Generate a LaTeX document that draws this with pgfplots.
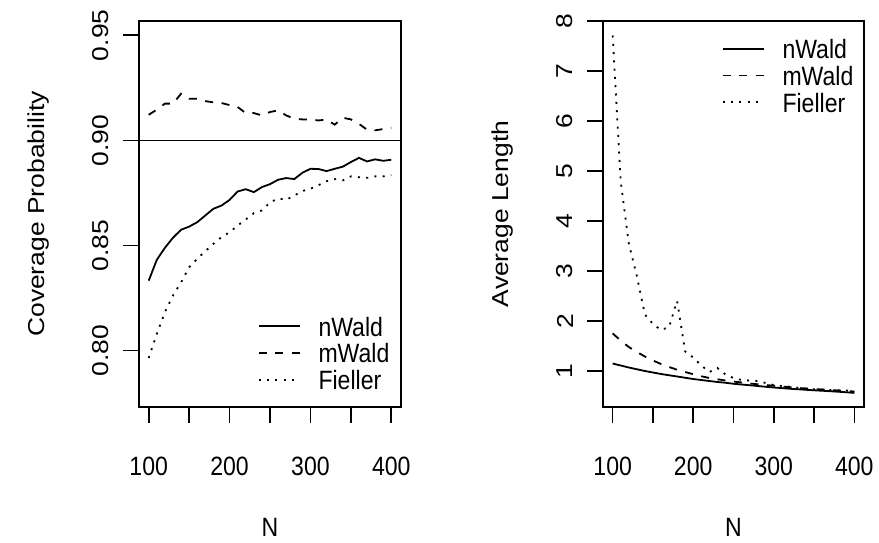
\documentclass[border=0pt]{standalone}
\usepackage{fontspec}
\setmainfont{Liberation Sans}
% the reference is stretched vertically, so text is set a little narrow/tall
\newfontfamily\hfont[FakeStretch=0.87]{Liberation Sans}
\newfontfamily\vfont[FakeStretch=1.15]{Liberation Sans}
\usepackage{pgfplots}
\usepackage{pgfplotstable}
\pgfplotsset{compat=1.18}

\newcommand{\hsz}{\hfont\fontsize{26.5}{30}\selectfont}
\newcommand{\vsz}{\vfont\fontsize{23}{27}\selectfont}

% coverage probability
\pgfplotstableread{
N   nW     mW     Fi
100 0.8333 0.9122 0.7965
110 0.8432 0.9146 0.8079
120 0.8489 0.9175 0.8183
130 0.8537 0.9175 0.8262
140 0.8575 0.9222 0.8325
150 0.8590 0.9198 0.8397
160 0.8611 0.9198 0.8437
170 0.8643 0.9187 0.8473
180 0.8675 0.9181 0.8508
190 0.8690 0.9178 0.8540
200 0.8717 0.9168 0.8563
210 0.8757 0.9159 0.8595
220 0.8768 0.9130 0.8624
230 0.8754 0.9130 0.8654
240 0.8778 0.9119 0.8667
250 0.8792 0.9135 0.8705
260 0.8813 0.9143 0.8724
270 0.8821 0.9119 0.8717
280 0.8816 0.9103 0.8738
290 0.8846 0.9100 0.8759
300 0.8865 0.9099 0.8770
310 0.8864 0.9095 0.8787
320 0.8854 0.9099 0.8806
330 0.8865 0.9075 0.8816
340 0.8875 0.9108 0.8810
350 0.8897 0.9100 0.8829
360 0.8917 0.9079 0.8825
370 0.8900 0.9051 0.8822
380 0.8910 0.9048 0.8829
390 0.8903 0.9054 0.8829
400 0.8908 0.9060 0.8835
}\covtab

% average length
\pgfplotstableread{
N   nW    mW    Fi
100 1.15  1.75  7.71
110 1.11  1.61  4.79
120 1.07  1.48  3.55
130 1.035 1.38  2.90
140 1.00  1.29  2.13
150 0.97  1.21  1.94
160 0.94  1.14  1.82
170 0.915 1.08  1.88
180 0.89  1.025 2.40
190 0.865 0.98  1.39
200 0.84  0.935 1.27
210 0.82  0.895 1.11
220 0.80  0.86  0.98
230 0.78  0.835 1.06
240 0.765 0.81  0.93
250 0.745 0.79  0.86
260 0.73  0.77  0.82
270 0.715 0.75  0.81
280 0.70  0.735 0.80
290 0.685 0.72  0.76
300 0.67  0.705 0.72
310 0.658 0.69  0.70
320 0.645 0.675 0.685
330 0.635 0.66  0.665
340 0.624 0.65  0.65
350 0.614 0.64  0.635
360 0.605 0.63  0.63
370 0.596 0.62  0.62
380 0.585 0.61  0.615
390 0.575 0.60  0.61
400 0.562 0.59  0.60
}\lentab

\pgfplotsset{
  rpanel/.style={
    scale only axis, width=262pt, height=386pt,
    xmin=88, xmax=412,
    axis line style={line width=1.6pt},
    every tick/.style={black, line width=1.6pt},
    tick align=outside, major tick length=16pt, tick pos=left,
    xtick={100,150,...,400}, xticklabels={100,,200,,300,,400},
    /pgf/number format/assume math mode=true,
    xticklabel style={font=\hsz, anchor=center, inner sep=0pt, yshift=-43pt},
    yticklabel style={font=\vsz, xshift=-22pt, rotate=90, anchor=center, inner sep=0pt},
    every axis x label/.style={at={(rel axis cs:0.5,0)}, anchor=center, yshift=-120pt, font=\hsz, inner sep=0pt},
    every axis y label/.style={at={(rel axis cs:0,0.5)}, xshift=-100pt, rotate=90, anchor=center, font=\vsz, inner sep=0pt},
    legend image code/.code={\draw[##1] (0pt,0.5pt) -- (41pt,0.5pt);},
    legend cell align=left,
    legend style={draw=none, fill=none, inner sep=0pt, outer sep=0pt, row sep=7.7pt, column sep=18pt,
      font=\hsz, nodes={inner sep=0pt, text height=19pt, text depth=0pt}},
  },
  nw/.style={black, line width=1.8pt, mark=none},
  mw/.style={black, line width=1.8pt, mark=none, dash pattern=on 8pt off 8.6pt},
  fl/.style={black, line width=1.8pt, mark=none, dash pattern=on 2pt off 6.3pt},
}

\begin{document}
\begin{tikzpicture}
\useasboundingbox (0,0) rectangle (879pt,542pt);

\begin{axis}[rpanel, at={(139pt,135pt)}, anchor=south west,
  ymin=0.7732, ymax=0.9568,
  ytick={0.80,0.85,0.90,0.95}, yticklabels={0.80,0.85,0.90,0.95},
  xlabel={N}, ylabel={Coverage Probability},
  legend style={at={(0.4531,0.2326)}, anchor=north west}]
\addplot[black, line width=1.6pt, forget plot] coordinates {(88,0.9) (412,0.9)};
\addplot[nw] table[x=N, y=nW] {\covtab};
\addplot[mw] table[x=N, y=mW] {\covtab};
\addplot[fl] table[x=N, y=Fi] {\covtab};
\legend{nWald, mWald, Fieller}
\end{axis}

\begin{axis}[rpanel, at={(603pt,135pt)}, anchor=south west, width=261pt,
  ymin=0.28, ymax=8.0, ytick={1,...,8},
  xlabel={N}, ylabel={Average Length},
  legend style={at={(0.4548,0.9513)}, anchor=north west}]
\addplot[nw] table[x=N, y=nW] {\lentab};
\addplot[mw] table[x=N, y=mW] {\lentab};
\addplot[fl] table[x=N, y=Fi] {\lentab};
\legend{nWald, mWald, Fieller}
\end{axis}
\end{tikzpicture}
\end{document}
